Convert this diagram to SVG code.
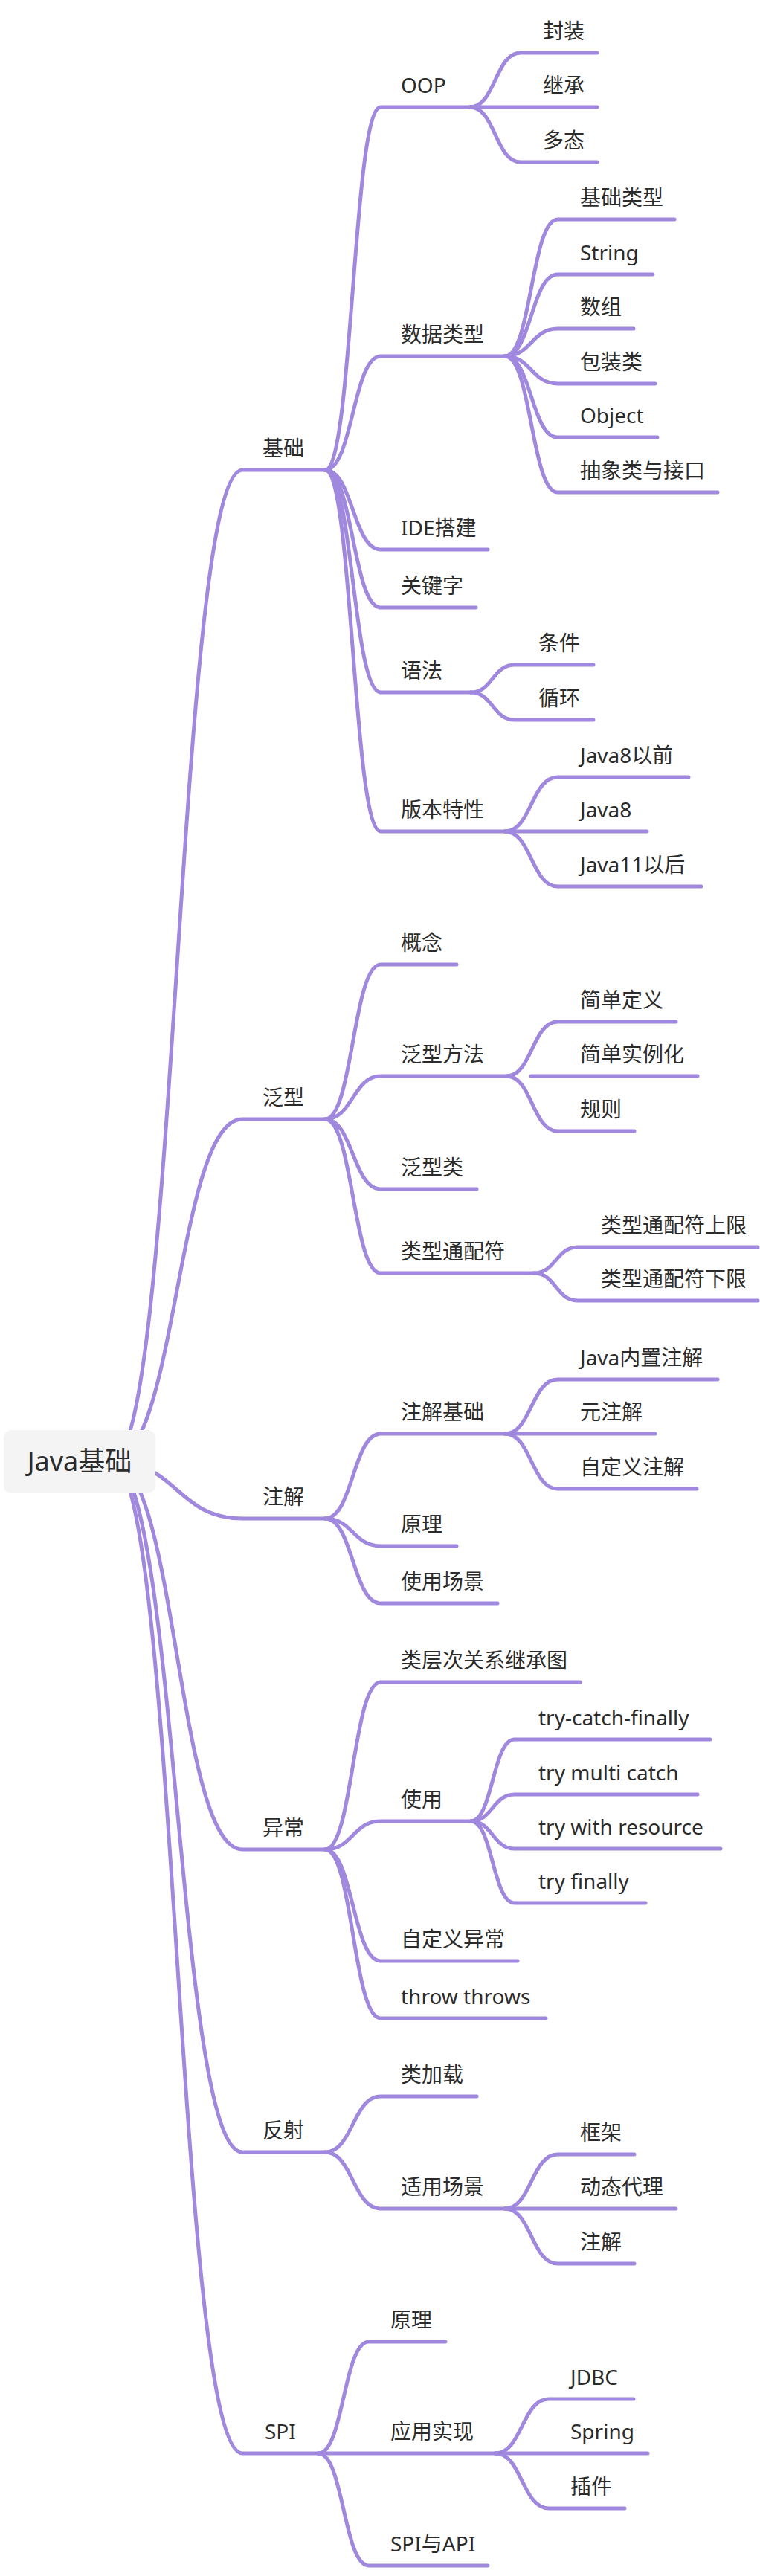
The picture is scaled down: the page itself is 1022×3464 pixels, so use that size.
<svg xmlns="http://www.w3.org/2000/svg" width="1022" height="3464" viewBox="0 0 1022 3464">
<style>
.c{fill:none;stroke:#9F88DE;stroke-width:5;stroke-linecap:round;stroke-linejoin:round}
.t{font-family:"Noto Sans","Noto Sans CJK SC",sans-serif;font-size:28px;fill:#2b2b2b}
.r{font-family:"Noto Sans","Noto Sans CJK SC",sans-serif;font-size:36px;fill:#2b2b2b;text-anchor:middle}
</style>
<rect width="1022" height="3464" fill="#fff"/>
<g id="connectors">
<path class="c" d="M150,1965 C238,1965 238,632 326,632 H437"/>
<path class="c" d="M150,1965 C238,1965 238,1505 326,1505 H437"/>
<path class="c" d="M150,1965 C238,1965 238,2042 326,2042 H437"/>
<path class="c" d="M150,1965 C238,1965 238,2487 326,2487 H437"/>
<path class="c" d="M150,1965 C238,1965 238,2894 326,2894 H437"/>
<path class="c" d="M150,1965 C238,1965 238,3299 326,3299 H428"/>
<path class="c" d="M437,632 C474.5,632 474.5,144 512,144 H632"/>
<path class="c" d="M437,632 C474.5,632 474.5,479 512,479 H679"/>
<path class="c" d="M437,632 C474.5,632 474.5,739 512,739 H656"/>
<path class="c" d="M437,632 C474.5,632 474.5,817 512,817 H640"/>
<path class="c" d="M437,632 C474.5,632 474.5,931 512,931 H633"/>
<path class="c" d="M437,632 C474.5,632 474.5,1118 512,1118 H679"/>
<path class="c" d="M437,1505 C474.5,1505 474.5,1297 512,1297 H614"/>
<path class="c" d="M437,1505 C474.5,1505 474.5,1447 512,1447 H681"/>
<path class="c" d="M437,1505 C474.5,1505 474.5,1599 512,1599 H641"/>
<path class="c" d="M437,1505 C474.5,1505 474.5,1712 512,1712 H718"/>
<path class="c" d="M437,2042 C474.5,2042 474.5,1928 512,1928 H679"/>
<path class="c" d="M437,2042 C474.5,2042 474.5,2079 512,2079 H614"/>
<path class="c" d="M437,2042 C474.5,2042 474.5,2156 512,2156 H669"/>
<path class="c" d="M437,2487 C474.5,2487 474.5,2262 512,2262 H780"/>
<path class="c" d="M437,2487 C474.5,2487 474.5,2449 512,2449 H633"/>
<path class="c" d="M437,2487 C474.5,2487 474.5,2637 512,2637 H696"/>
<path class="c" d="M437,2487 C474.5,2487 474.5,2714 512,2714 H734"/>
<path class="c" d="M437,2894 C474.5,2894 474.5,2819 512,2819 H641"/>
<path class="c" d="M437,2894 C474.5,2894 474.5,2970 512,2970 H679"/>
<path class="c" d="M428,3299 C462,3299 462,3149 496,3149 H599"/>
<path class="c" d="M428,3299 C462,3299 462,3299 496,3299 H666"/>
<path class="c" d="M428,3299 C462,3299 462,3450 496,3450 H656"/>
<path class="c" d="M632,144 C666,144 666,71 700,71 H803"/>
<path class="c" d="M632,144 H803"/>
<path class="c" d="M632,144 C666,144 666,218 700,218 H803"/>
<path class="c" d="M679,479 C714.5,479 714.5,295 750,295 H907"/>
<path class="c" d="M679,479 C714.5,479 714.5,369 750,369 H878"/>
<path class="c" d="M679,479 C714.5,479 714.5,442 750,442 H852"/>
<path class="c" d="M679,479 C714.5,479 714.5,516 750,516 H881"/>
<path class="c" d="M679,479 C714.5,479 714.5,588 750,588 H884"/>
<path class="c" d="M679,479 C714.5,479 714.5,662 750,662 H965"/>
<path class="c" d="M633,931 C662.5,931 662.5,894 692,894 H798"/>
<path class="c" d="M633,931 C662.5,931 662.5,968 692,968 H798"/>
<path class="c" d="M679,1118 C714.5,1118 714.5,1045 750,1045 H926"/>
<path class="c" d="M679,1118 H870"/>
<path class="c" d="M679,1118 C714.5,1118 714.5,1192 750,1192 H943"/>
<path class="c" d="M681,1447 C715.5,1447 715.5,1374 750,1374 H909"/>
<path class="c" d="M714,1447 H938"/>
<path class="c" d="M681,1447 C715.5,1447 715.5,1521 750,1521 H853"/>
<path class="c" d="M718,1712 C747.5,1712 747.5,1677 777,1677 H1019"/>
<path class="c" d="M718,1712 C747.5,1712 747.5,1749 777,1749 H1019"/>
<path class="c" d="M679,1928 C714.5,1928 714.5,1855 750,1855 H965"/>
<path class="c" d="M679,1928 H881"/>
<path class="c" d="M679,1928 C714.5,1928 714.5,2002 750,2002 H937"/>
<path class="c" d="M633,2449 C662.5,2449 662.5,2339 692,2339 H955"/>
<path class="c" d="M633,2449 C662.5,2449 662.5,2413 692,2413 H938"/>
<path class="c" d="M633,2449 C662.5,2449 662.5,2486 692,2486 H969"/>
<path class="c" d="M633,2449 C662.5,2449 662.5,2559 692,2559 H868"/>
<path class="c" d="M679,2970 C714.5,2970 714.5,2897 750,2897 H853"/>
<path class="c" d="M679,2970 H909"/>
<path class="c" d="M679,2970 C714.5,2970 714.5,3044 750,3044 H853"/>
<path class="c" d="M666,3299 C702,3299 702,3226 738,3226 H852"/>
<path class="c" d="M666,3299 H871"/>
<path class="c" d="M666,3299 C702,3299 702,3373 738,3373 H840"/>
</g>
<g id="root"><rect x="5" y="1923" width="204" height="85" rx="10" fill="#F4F4F4"/><text class="r" x="107" y="1978">Java基础</text></g>
<g id="n-jichu"><text class="t" x="353" y="613">基础</text></g>
<g id="n-fanxing"><text class="t" x="353" y="1486">泛型</text></g>
<g id="n-zhujie"><text class="t" x="353" y="2023">注解</text></g>
<g id="n-yichang"><text class="t" x="353" y="2468">异常</text></g>
<g id="n-fanshe"><text class="t" x="353" y="2875">反射</text></g>
<g id="n-spi"><text class="t" x="356" y="3280">SPI</text></g>
<g id="n-oop"><text class="t" x="539" y="125">OOP</text></g>
<g id="n-shujuleixing"><text class="t" x="539" y="460">数据类型</text></g>
<g id="n-ide"><text class="t" x="539" y="720">IDE搭建</text></g>
<g id="n-guanjianzi"><text class="t" x="539" y="798">关键字</text></g>
<g id="n-yufa"><text class="t" x="539" y="912">语法</text></g>
<g id="n-banben"><text class="t" x="539" y="1099">版本特性</text></g>
<g id="n-fengzhuang"><text class="t" x="730" y="52">封装</text></g>
<g id="n-jicheng"><text class="t" x="730" y="125">继承</text></g>
<g id="n-duotai"><text class="t" x="730" y="199">多态</text></g>
<g id="n-jichuleixing"><text class="t" x="780" y="276">基础类型</text></g>
<g id="n-string"><text class="t" x="780" y="350">String</text></g>
<g id="n-shuzu"><text class="t" x="780" y="423">数组</text></g>
<g id="n-baozhuang"><text class="t" x="780" y="497">包装类</text></g>
<g id="n-object"><text class="t" x="780" y="569">Object</text></g>
<g id="n-chouxiang"><text class="t" x="780" y="643">抽象类与接口</text></g>
<g id="n-tiaojian"><text class="t" x="724" y="875">条件</text></g>
<g id="n-xunhuan"><text class="t" x="724" y="949">循环</text></g>
<g id="n-java8before"><text class="t" x="780" y="1026">Java8以前</text></g>
<g id="n-java8"><text class="t" x="780" y="1099">Java8</text></g>
<g id="n-java11"><text class="t" x="780" y="1173">Java11以后</text></g>
<g id="n-gainian"><text class="t" x="539" y="1278">概念</text></g>
<g id="n-fxff"><text class="t" x="539" y="1428">泛型方法</text></g>
<g id="n-fxl"><text class="t" x="539" y="1580">泛型类</text></g>
<g id="n-lxtpf"><text class="t" x="539" y="1693">类型通配符</text></g>
<g id="n-jddy"><text class="t" x="780" y="1355">简单定义</text></g>
<g id="n-jdslh"><text class="t" x="780" y="1428">简单实例化</text></g>
<g id="n-guize"><text class="t" x="780" y="1502">规则</text></g>
<g id="n-shangxian"><text class="t" x="808" y="1658">类型通配符上限</text></g>
<g id="n-xiaxian"><text class="t" x="808" y="1730">类型通配符下限</text></g>
<g id="n-zjjc"><text class="t" x="539" y="1909">注解基础</text></g>
<g id="n-yuanli1"><text class="t" x="539" y="2060">原理</text></g>
<g id="n-sycj"><text class="t" x="539" y="2137">使用场景</text></g>
<g id="n-javanz"><text class="t" x="780" y="1836">Java内置注解</text></g>
<g id="n-yzj"><text class="t" x="780" y="1909">元注解</text></g>
<g id="n-zdyzj"><text class="t" x="780" y="1983">自定义注解</text></g>
<g id="n-lcc"><text class="t" x="539" y="2243">类层次关系继承图</text></g>
<g id="n-shiyong"><text class="t" x="539" y="2430">使用</text></g>
<g id="n-zdyyc"><text class="t" x="539" y="2618">自定义异常</text></g>
<g id="n-throw"><text class="t" x="539" y="2695">throw throws</text></g>
<g id="n-tcf"><text class="t" x="724" y="2320">try-catch-finally</text></g>
<g id="n-tmc"><text class="t" x="724" y="2394">try multi catch</text></g>
<g id="n-twr"><text class="t" x="724" y="2467">try with resource</text></g>
<g id="n-tf"><text class="t" x="724" y="2540">try finally</text></g>
<g id="n-ljz"><text class="t" x="539" y="2800">类加载</text></g>
<g id="n-sycj2"><text class="t" x="539" y="2951">适用场景</text></g>
<g id="n-kuangjia"><text class="t" x="780" y="2878">框架</text></g>
<g id="n-dtdl"><text class="t" x="780" y="2951">动态代理</text></g>
<g id="n-zhujie2"><text class="t" x="780" y="3025">注解</text></g>
<g id="n-yuanli2"><text class="t" x="525" y="3130">原理</text></g>
<g id="n-yysx"><text class="t" x="525" y="3280">应用实现</text></g>
<g id="n-spiapi"><text class="t" x="525" y="3431">SPI与API</text></g>
<g id="n-jdbc"><text class="t" x="767" y="3207">JDBC</text></g>
<g id="n-spring"><text class="t" x="767" y="3280">Spring</text></g>
<g id="n-chajian"><text class="t" x="767" y="3354">插件</text></g>
</svg>
